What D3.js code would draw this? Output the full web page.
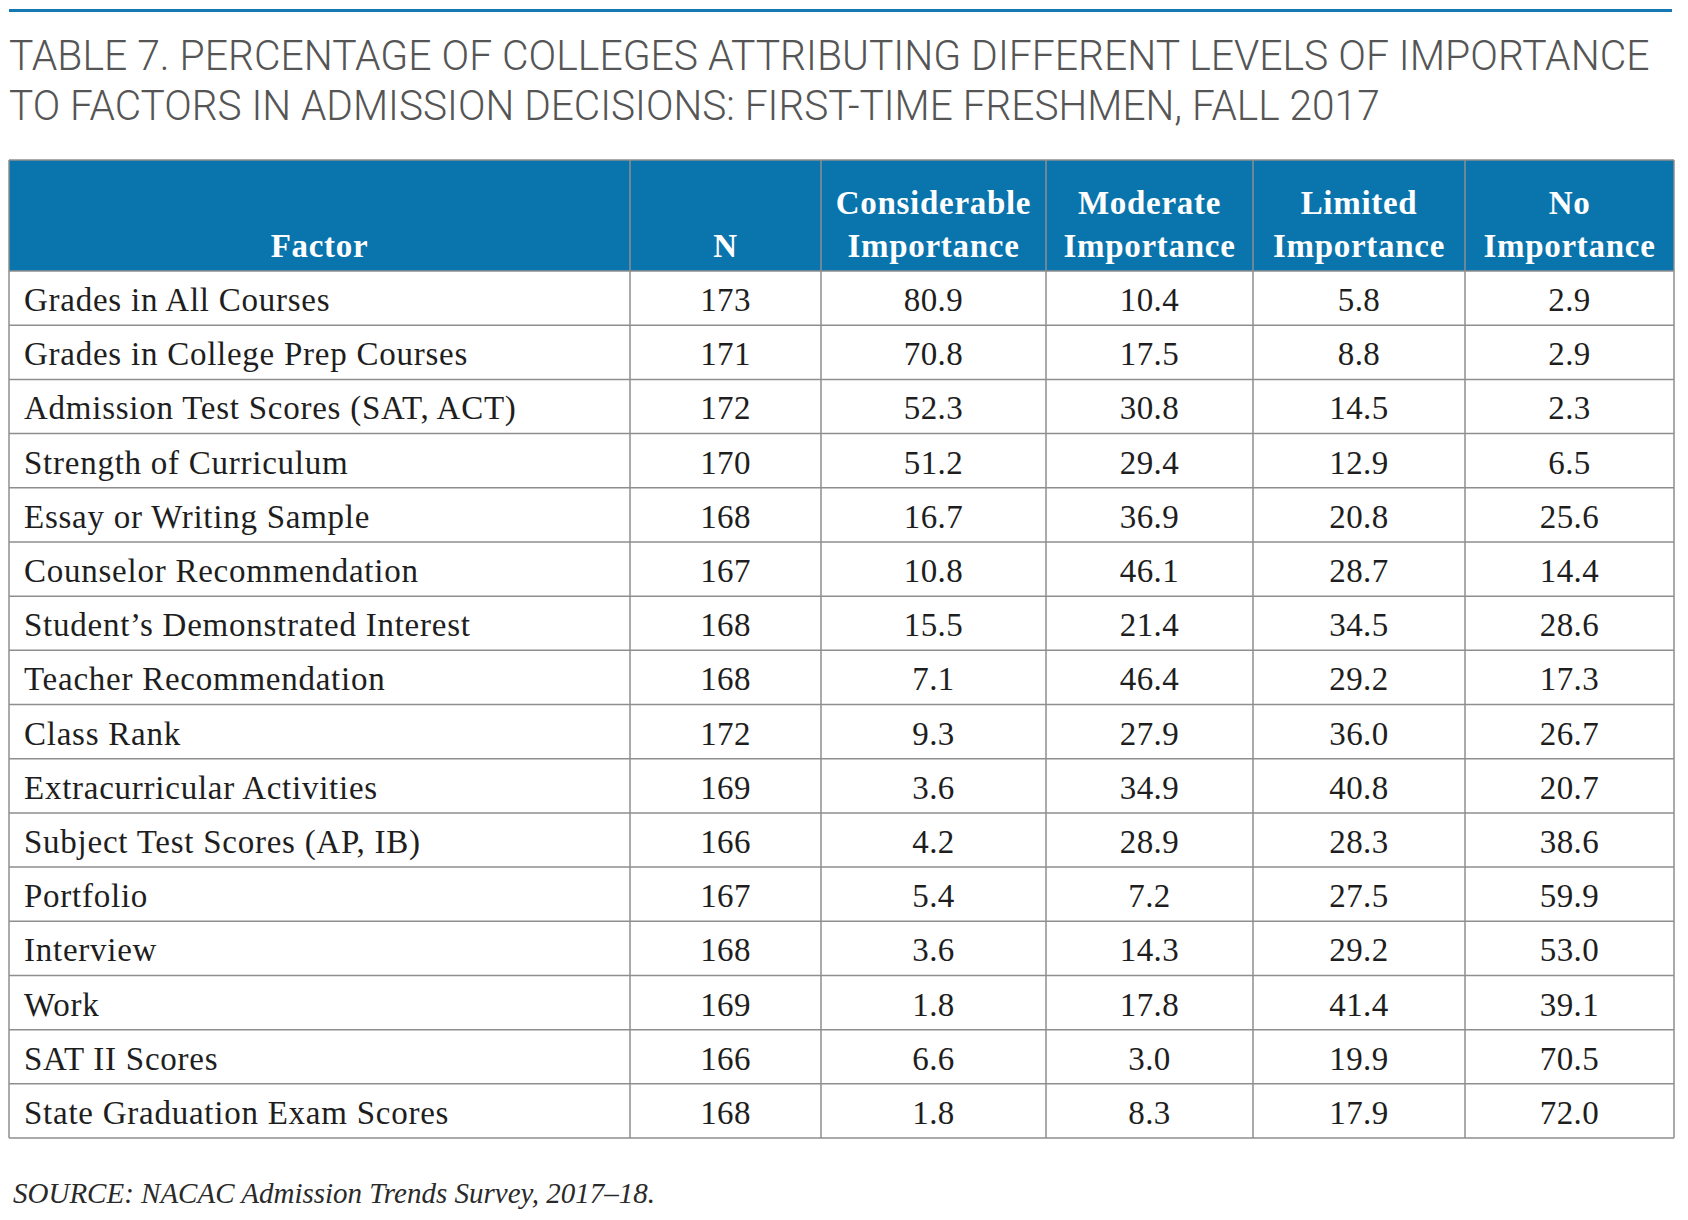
<!DOCTYPE html>
<html>
<head>
<meta charset="utf-8">
<script src="https://cdn.jsdelivr.net/npm/d3@7"></script>
<style>
  html, body { margin: 0; padding: 0; background: #ffffff; }
  svg { display: block; }
</style>
</head>
<body>
<svg id="chart" width="1688" height="1220"></svg>
<script>
// ---------- DATA ----------
const titleLines = [
  "TABLE 7. PERCENTAGE OF COLLEGES ATTRIBUTING DIFFERENT LEVELS OF IMPORTANCE",
  "TO FACTORS IN ADMISSION DECISIONS: FIRST-TIME FRESHMEN, FALL 2017"
];
const columnHeaders = [
  ["Factor"],
  ["N"],
  ["Considerable", "Importance"],
  ["Moderate", "Importance"],
  ["Limited", "Importance"],
  ["No", "Importance"]
];
const factors = [
  "Grades in All Courses",
  "Grades in College Prep Courses",
  "Admission Test Scores (SAT, ACT)",
  "Strength of Curriculum",
  "Essay or Writing Sample",
  "Counselor Recommendation",
  "Student\u2019s Demonstrated Interest",
  "Teacher Recommendation",
  "Class Rank",
  "Extracurricular Activities",
  "Subject Test Scores (AP, IB)",
  "Portfolio",
  "Interview",
  "Work",
  "SAT II Scores",
  "State Graduation Exam Scores"
];
const nValues = [173, 171, 172, 170, 168, 167, 168, 168, 172, 169, 166, 167, 168, 169, 166, 168];
const considerable = [80.9, 70.8, 52.3, 51.2, 16.7, 10.8, 15.5, 7.1, 9.3, 3.6, 4.2, 5.4, 3.6, 1.8, 6.6, 1.8];
const moderate     = [10.4, 17.5, 30.8, 29.4, 36.9, 46.1, 21.4, 46.4, 27.9, 34.9, 28.9, 7.2, 14.3, 17.8, 3.0, 8.3];
const limited      = [5.8, 8.8, 14.5, 12.9, 20.8, 28.7, 34.5, 29.2, 36.0, 40.8, 28.3, 27.5, 29.2, 41.4, 19.9, 17.9];
const noImportance = [2.9, 2.9, 2.3, 6.5, 25.6, 14.4, 28.6, 17.3, 26.7, 20.7, 38.6, 59.9, 53.0, 39.1, 70.5, 72.0];
const sourceNote = "SOURCE: NACAC Admission Trends Survey, 2017\u201318.";

// ---------- LAYOUT ----------
const colEdges = [9, 630, 821, 1046, 1253, 1465, 1674];
const tableTop = 160, headerBottom = 271, tableBottom = 1138;
const blue = "#0a74ad";
const gridColor = "#8e8e8e";
const serif = "'Liberation Serif', 'Times New Roman', serif";

const svg = d3.select("#chart");

// top rule
svg.append("line")
  .attr("x1", 9).attr("x2", 1672).attr("y1", 10.5).attr("y2", 10.5)
  .attr("stroke", "#1677b3").attr("stroke-width", 3);

// title (condensed by horizontal scaling to the reference width)
const titleWidths = [1641, 1371];
svg.selectAll("text.title").data(titleLines).join("text")
  .attr("class", "title")
  .attr("x", 0)
  .attr("y", 0)
  .attr("font-family", "Roboto, 'Liberation Sans', Arial, sans-serif")
  .attr("font-size", 43)
  .attr("font-weight", 300)
  .attr("fill", "#555555")
  .text(d => d)
  .each(function(d, i) {
    const w = this.getComputedTextLength();
    const s = titleWidths[i] / w;
    d3.select(this).attr("transform", `translate(9, ${70 + i * 50}) scale(${s}, 1)`);
  });

// column scale
const colIdx = d3.range(columnHeaders.length);
const xLeft = d3.scaleOrdinal().domain(colIdx).range(colEdges.slice(0, -1));
const xRight = d3.scaleOrdinal().domain(colIdx).range(colEdges.slice(1));
const xCenter = i => (xLeft(i) + xRight(i)) / 2;

// row scale
const y = d3.scaleBand().domain(factors).range([headerBottom, tableBottom]).paddingInner(0).paddingOuter(0);

// header background
svg.append("rect")
  .attr("x", colEdges[0]).attr("y", tableTop)
  .attr("width", colEdges[colEdges.length - 1] - colEdges[0])
  .attr("height", headerBottom - tableTop)
  .attr("fill", blue);

// header text
const hdr = svg.selectAll("text.hdr").data(columnHeaders).join("text")
  .attr("class", "hdr")
  .attr("text-anchor", "middle")
  .attr("font-family", serif)
  .attr("font-weight", "bold")
  .attr("font-size", 33)
  .attr("letter-spacing", 0.7)
  .attr("fill", "#ffffff");
hdr.each(function(lines, i) {
  const t = d3.select(this);
  const baseY = 257 - (lines.length - 1) * 43;
  lines.forEach((ln, k) => {
    t.append("tspan").attr("x", xCenter(i)).attr("y", baseY + k * 43).text(ln);
  });
});

// body rows
const rows = factors.map((f, i) => [f, nValues[i], considerable[i].toFixed(1), moderate[i].toFixed(1), limited[i].toFixed(1), noImportance[i].toFixed(1)]);

const rowG = svg.selectAll("g.row").data(rows).join("g")
  .attr("class", "row")
  .attr("transform", (d, i) => `translate(0, ${y(factors[i])})`);

rowG.selectAll("text").data(d => d).join("text")
  .attr("x", (d, j) => j === 0 ? xLeft(0) + 15 : xCenter(j))
  .attr("y", y.bandwidth() / 2 + 13)
  .attr("text-anchor", (d, j) => j === 0 ? "start" : "middle")
  .attr("font-family", serif)
  .attr("font-size", 33)
  .attr("letter-spacing", (d, j) => j === 0 ? 0.75 : 0.4)
  .attr("fill", "#1e1e1e")
  .text(d => d);

// grid: horizontal lines
const hLines = [tableTop, headerBottom].concat(factors.map(f => y(f) + y.bandwidth()));
svg.selectAll("line.h").data(hLines).join("line")
  .attr("class", "h")
  .attr("x1", colEdges[0]).attr("x2", colEdges[colEdges.length - 1])
  .attr("y1", d => d).attr("y2", d => d)
  .attr("stroke", gridColor).attr("stroke-width", 1.5);

// grid: vertical lines
svg.selectAll("line.v").data(colEdges).join("line")
  .attr("class", "v")
  .attr("x1", d => d).attr("x2", d => d)
  .attr("y1", tableTop).attr("y2", tableBottom)
  .attr("stroke", gridColor)
  .attr("stroke-width", 1.5);

// source note
svg.append("text")
  .attr("x", 13).attr("y", 1203)
  .attr("font-family", serif)
  .attr("font-style", "italic")
  .attr("font-size", 29)
  .attr("fill", "#2a2a2a")
  .text(sourceNote);
</script>
</body>
</html>
